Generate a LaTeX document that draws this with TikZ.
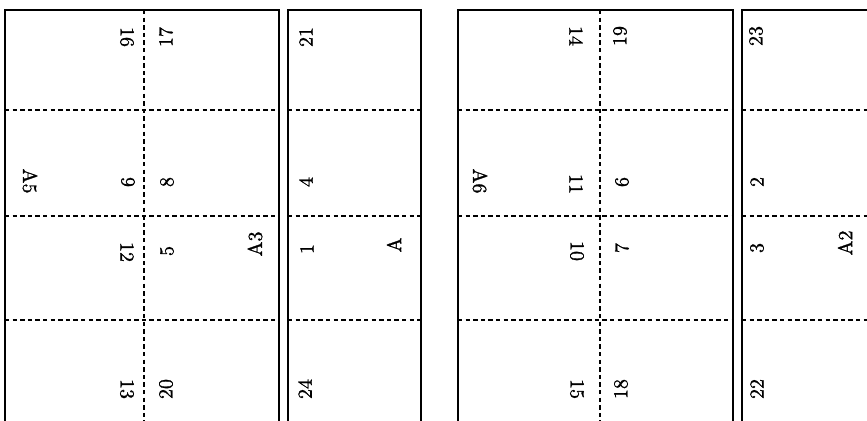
\documentclass[tikz,border=0pt]{standalone}
\usepackage{fontspec}
\newfontfamily\pagefont{lmroman10-regular.otf}[FakeBold=1.2]
\usepackage{tikz}
\tikzset{
  sheet/.style={line width=0.85pt},
  fold/.style={line width=0.65pt, dash pattern=on 2.2pt off 1.6pt},
  upnum/.style={rotate=90, inner sep=0pt, font=\pagefont},
  downnum/.style={rotate=-90, inner sep=0pt, font=\pagefont},
}
\begin{document}
\begin{tikzpicture}[x=0.5pt,y=-0.5pt]
            \fill[white] (0,0) rectangle (867,420);
            \clip (0,0) rectangle (867,420);
            % sheet A3 / A5
            \draw[sheet] (5,10) rectangle (279,440);
            \draw[fold] (144,10)--(144,440);
            \draw[fold] (5,110)--(279,110);
            \draw[fold] (5,216)--(279,216);
            \draw[fold] (5,320)--(279,320);
            % sheet A
            \draw[sheet] (288,10) rectangle (421,440);
            \draw[fold] (288,110)--(421,110);
            \draw[fold] (288,216)--(421,216);
            \draw[fold] (288,320)--(421,320);
            % sheet A6
            \draw[sheet] (458,10) rectangle (733,440);
            \draw[fold] (600,10)--(600,440);
            \draw[fold] (458,110)--(733,110);
            \draw[fold] (458,216)--(733,216);
            \draw[fold] (458,320)--(733,320);
            % sheet A2
            \draw[sheet] (742,10) rectangle (880,440);
            \draw[fold] (742,110)--(880,110);
            \draw[fold] (742,216)--(880,216);
            \draw[fold] (742,320)--(880,320);
            % page numbers, first sheet
            \node[downnum] (p16) at (127,37) {16};
            \node[downnum] (p9) at (128,182) {9};
            \node[downnum] (p12) at (127,252) {12};
            \node[downnum] (p13) at (127,389) {13};
            \node[upnum] (p17) at (166,37) {17};
            \node[upnum] (p8) at (167,182) {8};
            \node[upnum] (p5) at (167,251) {5};
            \node[upnum] (p20) at (166,389) {20};
            \node[downnum] (pA5) at (30,181) {A5};
            \node[upnum] (pA3) at (255,244) {A3};
            % page numbers, second sheet
            \node[upnum] (p21) at (306,37) {21};
            \node[upnum] (p4) at (306,182) {4};
            \node[upnum] (p1) at (307,249) {1};
            \node[upnum] (p24) at (305,389) {24};
            \node[upnum] (pA) at (394,245) {A};
            % page numbers, third sheet
            \node[downnum] (p14) at (576,36) {14};
            \node[downnum] (p11) at (576,184) {11};
            \node[downnum] (p10) at (577,251) {10};
            \node[downnum] (p15) at (577,389) {15};
            \node[upnum] (p19) at (620,36) {19};
            \node[upnum] (p6) at (622,182) {6};
            \node[upnum] (p7) at (622,248) {7};
            \node[upnum] (p18) at (621,389) {18};
            \node[downnum] (pA6) at (480,181) {A6};
            % page numbers, fourth sheet
            \node[upnum] (p23) at (756,36) {23};
            \node[upnum] (p2) at (757,182) {2};
            \node[upnum] (p3) at (757,248) {3};
            \node[upnum] (p22) at (757,389) {22};
            \node[upnum] (pA2) at (845,243) {A2};
        \end{tikzpicture}
\end{document}
